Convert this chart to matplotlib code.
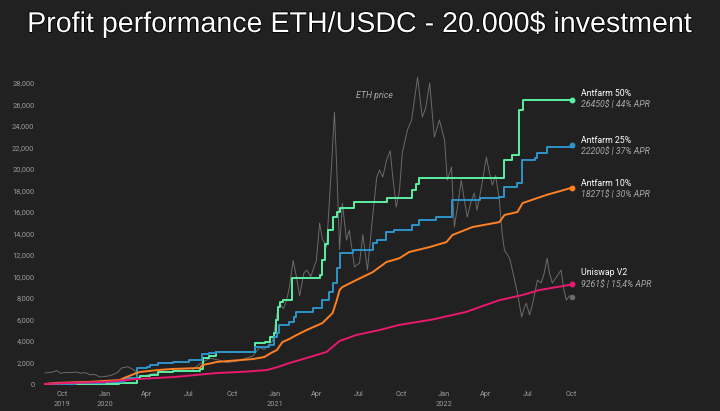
import numpy as np
import pandas as pd
import matplotlib
matplotlib.use("Agg")
import matplotlib.pyplot as plt
import matplotlib.patheffects as pe

# ETH price (scaled, as drawn in the picture)
eth_dates = ["2019-08-26", "2019-09-03", "2019-09-10", "2019-09-20", "2019-09-28", "2019-10-10",
             "2019-10-20", "2019-11-01", "2019-11-10", "2019-11-20", "2019-12-01", "2019-12-10",
             "2019-12-22", "2020-01-05", "2020-01-15", "2020-01-28", "2020-02-07", "2020-02-20",
             "2020-03-05", "2020-03-13", "2020-03-25", "2020-04-08", "2020-04-20", "2020-05-10",
             "2020-05-25", "2020-06-10", "2020-06-25", "2020-07-05", "2020-07-25", "2020-08-15",
             "2020-09-05", "2020-09-20", "2020-10-10", "2020-10-25", "2020-11-15", "2020-11-30",
             "2020-12-10", "2020-12-20", "2020-12-28", "2021-01-06", "2021-01-12", "2021-01-20",
             "2021-01-27", "2021-02-02", "2021-02-10", "2021-02-17", "2021-02-24", "2021-03-05",
             "2021-03-11", "2021-03-20", "2021-04-01", "2021-04-08", "2021-04-14", "2021-04-23",
             "2021-05-04", "2021-05-10", "2021-05-15", "2021-05-21", "2021-05-27", "2021-06-05",
             "2021-06-11", "2021-06-22", "2021-07-03", "2021-07-10", "2021-07-20", "2021-07-31",
             "2021-08-09", "2021-08-15", "2021-08-22", "2021-08-30", "2021-09-07", "2021-09-12",
             "2021-09-20", "2021-09-27", "2021-10-03", "2021-10-14", "2021-10-23", "2021-11-05",
             "2021-11-15", "2021-11-22", "2021-12-01", "2021-12-11", "2021-12-22", "2022-01-02",
             "2022-01-08", "2022-01-17", "2022-01-23", "2022-01-30", "2022-02-07", "2022-02-14",
             "2022-02-20", "2022-02-27", "2022-03-07", "2022-03-13", "2022-03-22", "2022-04-02",
             "2022-04-08", "2022-04-15", "2022-04-22", "2022-04-30", "2022-05-06", "2022-05-11",
             "2022-05-22", "2022-05-28", "2022-06-08", "2022-06-17", "2022-06-22", "2022-06-27",
             "2022-07-04", "2022-07-10", "2022-07-16", "2022-07-21", "2022-07-29", "2022-08-04",
             "2022-08-11", "2022-08-16", "2022-08-22", "2022-08-30", "2022-09-10", "2022-09-15",
             "2022-09-21", "2022-09-28", "2022-10-04"]
eth_vals = [1020, 1080, 1100, 1250, 1000, 1080,
            1050, 1120, 1000, 1060, 850, 900,
            650, 720, 800, 1050, 1500, 1600,
            1300, 560, 750, 900, 1000, 1200,
            1100, 1300, 1250, 1200, 1900, 2400,
            2200, 2000, 2100, 2300, 2600, 3400,
            3200, 3700, 4000, 6500, 7500, 7000,
            7800, 9000, 11500, 10000, 8200, 10300,
            10600, 10000, 11500, 14970, 13500, 12740,
            20500, 25300, 20000, 12500, 16800, 13400,
            14300, 10900, 11250, 13900, 10600, 15500,
            19250, 19900, 19250, 20800, 21700, 19500,
            16450, 18000, 21480, 23620, 24550, 28550,
            24830, 25600, 28000, 22970, 24550, 22700,
            18970, 20180, 14600, 16500, 18970, 17000,
            15530, 16800, 17760, 16180, 18200, 21110,
            19800, 18500, 19400, 17100, 14000, 12460,
            11700, 10600, 8460, 6230, 7000, 7530,
            6420, 7350, 8600, 9670, 9400, 10200,
            11700, 10300, 9400, 9900, 10600, 9000,
            7810, 8200, 8090]

# Antfarm 50%
af50_dates = ["2019-08-26", "2019-11-01", "2020-02-01", "2020-03-10", "2020-03-17", "2020-04-07",
              "2020-04-25", "2020-05-27", "2020-07-25", "2020-07-30", "2020-08-12", "2020-08-29",
              "2020-11-19", "2020-12-12", "2020-12-23", "2020-12-31", "2021-01-05", "2021-01-09",
              "2021-01-13", "2021-01-20", "2021-02-07", "2021-04-08", "2021-04-14", "2021-04-20",
              "2021-04-25", "2021-05-06", "2021-05-15", "2021-05-21", "2021-06-22", "2021-09-01",
              "2021-10-25", "2021-11-01", "2021-11-09", "2022-05-11", "2022-05-28", "2022-06-12",
              "2022-06-19", "2022-10-04"]
af50_vals = [0, 40, 90, 560, 740, 840,
             1120, 1210, 1400, 2420, 2600, 2980,
             3810, 3900, 4370, 4740, 5950, 7160,
             7600, 7800, 9850, 10100, 11500, 13000,
             14300, 15500, 16000, 16350, 16900, 17300,
             18040, 18600, 19150, 20830, 21300, 25480,
             26400, 26450]

# Antfarm 25%
af25_dates = ["2019-08-26", "2019-11-01", "2020-01-01", "2020-02-07", "2020-02-12", "2020-03-10",
              "2020-04-01", "2020-04-07", "2020-04-25", "2020-05-27", "2020-07-01", "2020-07-28",
              "2020-08-12", "2020-08-29", "2020-11-19", "2020-12-20", "2020-12-31", "2021-01-06",
              "2021-01-10", "2021-02-02", "2021-02-12", "2021-02-17", "2021-03-25", "2021-04-14",
              "2021-04-28", "2021-05-06", "2021-05-15", "2021-05-21", "2021-06-18", "2021-07-31",
              "2021-08-09", "2021-08-30", "2021-09-15", "2021-10-25", "2021-11-09", "2021-12-15",
              "2022-01-19", "2022-03-20", "2022-04-30", "2022-05-11", "2022-06-08", "2022-06-17",
              "2022-07-15", "2022-07-21", "2022-08-11", "2022-10-04"]
af25_vals = [0, 60, 150, 190, 560, 1490,
             1580, 1770, 1950, 2050, 2230, 2790,
             2880, 2980, 3440, 3630, 4370, 4740,
             5490, 5770, 6200, 6700, 7070, 7800,
             8600, 9400, 10800, 12200, 12450, 13100,
             13400, 14150, 14300, 14790, 15250, 15500,
             17100, 17300, 17400, 18300, 18700, 20830,
             21000, 21500, 22040, 22200]

# Antfarm 10%
af10_dates = ["2019-08-26", "2019-09-20", "2019-12-01", "2020-02-03", "2020-02-12", "2020-03-10",
              "2020-03-17", "2020-04-25", "2020-05-27", "2020-07-24", "2020-07-30", "2020-08-20",
              "2020-08-29", "2020-11-15", "2020-12-10", "2020-12-25", "2021-01-06", "2021-01-18",
              "2021-02-02", "2021-02-15", "2021-03-11", "2021-04-14", "2021-05-06", "2021-05-15",
              "2021-05-21", "2021-05-27", "2021-06-26", "2021-07-31", "2021-08-30", "2021-09-27",
              "2021-10-18", "2021-12-01", "2022-01-06", "2022-01-19", "2022-03-03", "2022-04-30",
              "2022-05-11", "2022-06-08", "2022-06-19", "2022-08-09", "2022-10-04"]
af10_vals = [0, 100, 200, 370, 560, 1020,
             1120, 1300, 1400, 1490, 1770, 1950,
             2050, 2320, 2510, 2900, 3160, 3900,
             4190, 4500, 5020, 5670, 6600, 7800,
             8740, 9020, 9670, 10400, 11350, 11700,
             12280, 12740, 13200, 13860, 14600, 15060,
             15720, 16000, 16830, 17580, 18271]

# Uniswap V2
uni_dates = ["2019-08-26", "2019-10-15", "2020-01-01", "2020-03-10", "2020-05-30", "2020-08-29",
             "2020-11-01", "2020-12-15", "2021-01-08", "2021-02-02", "2021-03-11", "2021-04-23",
             "2021-05-21", "2021-06-26", "2021-08-15", "2021-09-27", "2021-12-07", "2022-02-17",
             "2022-04-30", "2022-06-19", "2022-07-25", "2022-10-04"]
uni_vals = [0, 100, 190, 460, 650, 1020,
            1150, 1300, 1580, 1950, 2420, 2980,
            4000, 4560, 5020, 5500, 6000, 6700,
            7800, 8280, 8740, 9261]

names = ["Antfarm 50%", "Antfarm 25%", "Antfarm 10%", "Uniswap V2"]
subtitles = ["26450$ | 44% APR", "22200$ | 37% APR", "18271$ | 30% APR", "9261$ | 15,4% APR"]

bg = "#212121"
colors = ["#5cf0a2", "#2f93c9", "#ff8125", "#e8196e"]

fig = plt.figure(figsize=(7.2, 4.11), dpi=100, facecolor=bg)
ax = fig.add_axes([40 / 720, 21 / 411, 660 / 720, 330 / 411], facecolor=bg)

ax.plot(pd.to_datetime(eth_dates), eth_vals, color="#6a6a6a", lw=0.7, zorder=1)
ax.plot(pd.to_datetime(eth_dates[-1:]), eth_vals[-1:], "o", color="#6a6a6a", ms=3)

series = [(af50_dates, af50_vals, "steps-post"),
          (af25_dates, af25_vals, "steps-post"),
          (af10_dates, af10_vals, "default"),
          (uni_dates, uni_vals, "default")]
offsets = [(6, -5), (5, -6), (4, -7), (12, -1)]

for (d, v, ds), c, nm, sub, off in zip(series, colors, names, subtitles, offsets):
    dd = pd.to_datetime(d)
    ax.plot(dd, v, color=c, lw=1.4, drawstyle=ds, zorder=3)
    ax.plot(dd[-1:], v[-1:], "o", color=c, ms=3.2, zorder=4)
    ax.annotate(nm, (dd[-1], v[-1]), xytext=(9, off[0]), textcoords="offset pixels",
                color="white", fontsize=6.3, va="center", ha="left", family="Roboto")
    ax.annotate(sub, (dd[-1], v[-1]), xytext=(9, off[1]), textcoords="offset pixels",
                color="#a8a8a8", fontsize=6.3, va="center", ha="left", style="italic",
                family="Roboto")

ax.text(pd.Timestamp("2021-08-05"), 26880, "ETH price", color="#a8a8a8", fontsize=6.3,
        style="italic", ha="center", va="center", family="Roboto")

ax.set_xlim(pd.Timestamp("2019-08-15"), pd.Timestamp("2023-07-06"))
ax.set_ylim(-558, 30140)

yt = np.arange(0, 28001, 2000)
ax.set_yticks(yt)
ax.set_yticklabels([f"{v:,}" for v in yt])

xt = pd.date_range("2019-10-01", "2022-10-01", freq="QS-JAN")
ax.set_xticks(xt)
xl = []
for i, t in enumerate(xt):
    lab = t.strftime("%b")
    if i == 0 or t.month == 1:
        lab += "\n" + str(t.year)
    xl.append(lab)
ax.set_xticklabels(xl, linespacing=1.5)

ax.tick_params(axis="both", length=0, colors="#9a9a9a", labelsize=5.3)
ax.tick_params(axis="y", pad=4)
ax.tick_params(axis="x", pad=1)
for lbl in ax.get_xticklabels() + ax.get_yticklabels():
    lbl.set_family("Roboto")
for s in ax.spines.values():
    s.set_visible(False)

fig.text(0.5, 1 - 24 / 411, "Profit performance ETH/USDC - 20.000$ investment",
         color="white", fontsize=20.6, ha="center", va="center", family="Liberation Sans",
         path_effects=[pe.withStroke(linewidth=1.2, foreground="black")])

fig.savefig("out.png", dpi=100, facecolor=bg)
